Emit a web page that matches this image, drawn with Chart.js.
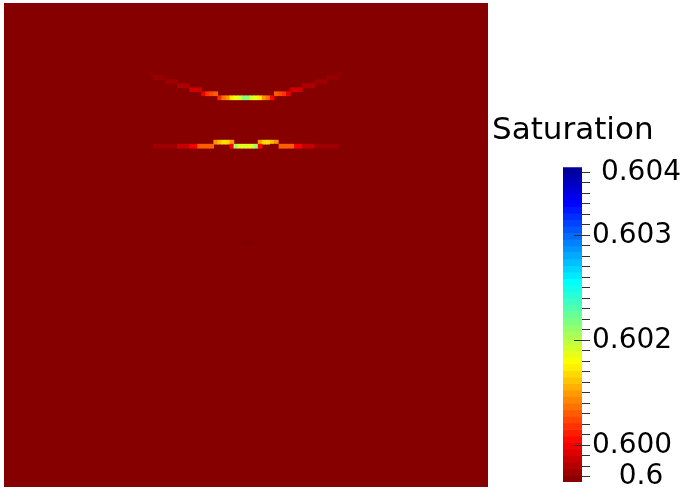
<!DOCTYPE html>
<html lang="en">
<head>
  <meta charset="UTF-8">
  <title>Saturation</title>
  <script src="https://cdn.jsdelivr.net/npm/chart.js"></script>
  <style>
    body {
      margin: 0;
      background: #fff;
      width: 684px;
      height: 494px;
      overflow: hidden;
      position: relative;
      font-family: 'DejaVu Sans', sans-serif;
    }
    #field {
      position: absolute;
      left: 4px;
      top: 3px;
    }
    #legendBar {
      position: absolute;
      left: 492px;
      top: 100px;
    }
  </style>
</head>
<body>
  <canvas id="field" width="484" height="484"></canvas>
  <canvas id="legendBar" width="192" height="394"></canvas>

  <script>
    // grid size of the field (cells per side)
    const gridCols = 120;
    const gridRows = 120;

    // colour bar range and ticks
    const rangeMin = 0.60065;
    const rangeMax = 0.60365;
    const tickValues = [
      0.6007, 0.6008, 0.6009, 0.6010, 0.6011, 0.6012, 0.6013, 0.6014, 0.6015, 0.6016,
      0.6017, 0.6018, 0.6019, 0.6020, 0.6021, 0.6022, 0.6023, 0.6024, 0.6025, 0.6026,
      0.6027, 0.6028, 0.6029, 0.6030, 0.6031, 0.6032, 0.6033, 0.6034, 0.6035, 0.6036
    ];
    const labelValues = [0.6036, 0.603, 0.602, 0.601, 0.6007];
    const labelTexts = [' 0.604', '0.603', '0.602', '0.600', '   0.6'];
    const longTickValues = [0.603, 0.602, 0.601];

    // value of the bulk of the field
    const backgroundValue = 0.60067;

    // cells that differ from the background: row, column, saturation
    const cellRow = [
      17, 17,
      18, 18, 18, 18, 18, 18,
      19, 19, 19, 19, 19, 19,
      20, 20, 20, 20, 20, 20,
      21, 21, 21, 21, 21, 21,
      22, 22, 22, 22, 22, 22, 22, 22,
      23, 23, 23, 23, 23, 23, 23, 23, 23, 23, 23, 23, 23, 23,
      34, 34, 34, 34, 34, 34, 34, 34, 34, 34,
      35, 35, 35, 35, 35, 35, 35, 35, 35, 35, 35, 35, 35, 35, 35, 35, 35, 35, 35, 35,
      35, 35, 35, 35, 35, 35, 35, 35, 35, 35, 35, 35, 35, 35, 35, 35, 35, 35, 35, 35,
      59, 59, 59
    ];
    const cellCol = [
      36, 83,
      37, 38, 39, 80, 81, 82,
      40, 41, 42, 77, 78, 79,
      43, 44, 45, 74, 75, 76,
      46, 47, 48, 71, 72, 73,
      49, 50, 51, 52, 67, 68, 69, 70,
      53, 54, 55, 56, 57, 58, 59, 60, 61, 62, 63, 64, 65, 66,
      52, 53, 54, 55, 56, 63, 64, 65, 66, 67,
      37, 38, 39, 40, 41, 42, 43, 44, 45, 46, 47, 48, 49, 50, 51, 56, 57, 58, 59, 60,
      61, 62, 63, 68, 69, 70, 71, 72, 73, 74, 75, 76, 77, 78, 79, 80, 81, 82, 66, 67,
      59, 60, 61
    ];
    const cellValue = [
      0.60070, 0.60070,
      0.60072, 0.60072, 0.60072, 0.60072, 0.60072, 0.60072,
      0.60074, 0.60074, 0.60074, 0.60074, 0.60074, 0.60074,
      0.60079, 0.60079, 0.60079, 0.60079, 0.60079, 0.60079,
      0.60089, 0.60089, 0.60089, 0.60089, 0.60089, 0.60089,
      0.60098, 0.60119, 0.60125, 0.60131, 0.60131, 0.60125, 0.60119, 0.60098,
      0.60116, 0.60137, 0.60146, 0.60173, 0.60185, 0.60191, 0.60215, 0.60215, 0.60191, 0.60185, 0.60173, 0.60146, 0.60137, 0.60104,
      0.60146, 0.60160, 0.60170, 0.60168, 0.60149, 0.60149, 0.60168, 0.60170, 0.60160, 0.60146,
      0.60074, 0.60074, 0.60074, 0.60074, 0.60074, 0.60074, 0.60086, 0.60086, 0.60086, 0.60101, 0.60101, 0.60131, 0.60131, 0.60131, 0.60131, 0.60104, 0.60209, 0.60188, 0.60188, 0.60188,
      0.60188, 0.60209, 0.60104, 0.60131, 0.60131, 0.60131, 0.60131, 0.60101, 0.60101, 0.60086, 0.60086, 0.60086, 0.60074, 0.60074, 0.60074, 0.60074, 0.60074, 0.60074, 0.60067, 0.60067,
      0.60065, 0.60065, 0.60065
    ];

    // reversed "jet" colour map, low = dark red, high = dark blue
    const jetStops = [
      [0.0, [0.5, 0, 0]],
      [0.126984, [1, 0, 0]],
      [0.380952, [1, 1, 0]],
      [0.507937, [0.5, 1, 0.5]],
      [0.634921, [0, 1, 1]],
      [0.888889, [0, 0, 1]],
      [1.0, [0, 0, 0.5625]]
    ];

    function jetColor(value) {
      let t = (value - rangeMin) / (rangeMax - rangeMin);
      t = Math.min(1, Math.max(0, t));
      for (let i = 1; i < jetStops.length; i++) {
        const [t1, c1] = jetStops[i];
        const [t0, c0] = jetStops[i - 1];
        if (t <= t1) {
          const f = (t - t0) / (t1 - t0);
          const rgb = c0.map((c, k) => Math.round((c + (c1[k] - c) * f) * 255));
          return `rgb(${rgb[0]}, ${rgb[1]}, ${rgb[2]})`;
        }
      }
      return 'rgb(0, 0, 143)';
    }

    const fieldBackground = {
      id: 'fieldBackground',
      beforeDatasetsDraw(chart) {
        const { ctx, chartArea } = chart;
        ctx.save();
        ctx.fillStyle = jetColor(backgroundValue);
        ctx.fillRect(chartArea.left, chartArea.top, chartArea.width, chartArea.height);
        ctx.restore();
      }
    };

    const colLabels = Array.from({ length: gridCols }, (_, i) => String(i));

    new Chart(document.getElementById('field'), {
      type: 'bar',
      data: {
        labels: colLabels,
        datasets: [{
          data: cellCol.map((c, i) => ({ x: String(c), y: [cellRow[i], cellRow[i] + 1] })),
          backgroundColor: cellValue.map(v => jetColor(v)),
          borderWidth: 0,
          barPercentage: 1,
          categoryPercentage: 1
        }]
      },
      options: {
        responsive: false,
        animation: false,
        layout: { padding: 0 },
        plugins: {
          legend: { display: false },
          tooltip: { enabled: false }
        },
        scales: {
          x: { display: false },
          y: { display: false, min: 0, max: gridRows, reverse: true }
        }
      },
      plugins: [fieldBackground]
    });

    // colour bar, drawn as discrete bands of the colour map
    const bandCount = 48;
    const bandData = [];
    const bandColors = [];
    for (let k = 0; k < bandCount; k++) {
      const lo = rangeMin + k / bandCount * (rangeMax - rangeMin);
      const hi = rangeMin + (k + 1) / bandCount * (rangeMax - rangeMin);
      bandData.push({ x: 'Saturation', y: [lo, hi] });
      bandColors.push(jetColor((lo + hi) / 2));
    }

    const longTicks = {
      id: 'longTicks',
      afterDatasetsDraw(chart) {
        const { ctx, chartArea, scales } = chart;
        ctx.save();
        ctx.strokeStyle = '#303030';
        ctx.lineWidth = 1;
        longTickValues.forEach(v => {
          const py = Math.round(scales.y.getPixelForValue(v)) + 0.5;
          ctx.beginPath();
          ctx.moveTo(chartArea.right - 8, py);
          ctx.lineTo(chartArea.right, py);
          ctx.stroke();
        });
        ctx.restore();
      }
    };

    new Chart(document.getElementById('legendBar'), {
      type: 'bar',
      data: {
        labels: ['Saturation'],
        datasets: [{
          data: bandData,
          yAxisID: 'y',
          backgroundColor: bandColors,
          borderWidth: 0,
          barPercentage: 1,
          categoryPercentage: 1
        }]
      },
      options: {
        responsive: false,
        animation: false,
        layout: { padding: { bottom: 12 } },
        plugins: {
          legend: { display: false },
          tooltip: { enabled: false },
          title: {
            display: true,
            text: 'Saturation',
            align: 'start',
            color: '#000',
            font: { family: 'DejaVu Sans', size: 31, weight: 'normal' },
            padding: { top: 12, bottom: 18 }
          }
        },
        scales: {
          x: { display: false },
          spacer: {
            position: 'left',
            ticks: { display: false },
            grid: { display: false },
            border: { display: false },
            afterFit(s) { s.width = 71; s.paddingTop = 0; s.paddingBottom = 0; }
          },
          y: {
            position: 'right',
            min: rangeMin,
            max: rangeMax,
            afterBuildTicks(s) { s.ticks = tickValues.map(v => ({ value: v })); },
            afterFit(s) { s.width = 102; s.paddingTop = 0; s.paddingBottom = 0; },
            ticks: {
              autoSkip: false,
              padding: 2,
              color: '#000',
              font: { family: 'DejaVu Sans', size: 28 },
              callback: value => {
                const i = labelValues.findIndex(m => Math.abs(m - value) < 1e-9);
                return i >= 0 ? labelTexts[i] : '';
              }
            },
            grid: {
              drawOnChartArea: false,
              drawTicks: true,
              tickLength: 8,
              color: '#303030',
              lineWidth: 1
            },
            border: { display: false }
          }
        }
      },
      plugins: [longTicks]
    });
  </script>
</body>
</html>
